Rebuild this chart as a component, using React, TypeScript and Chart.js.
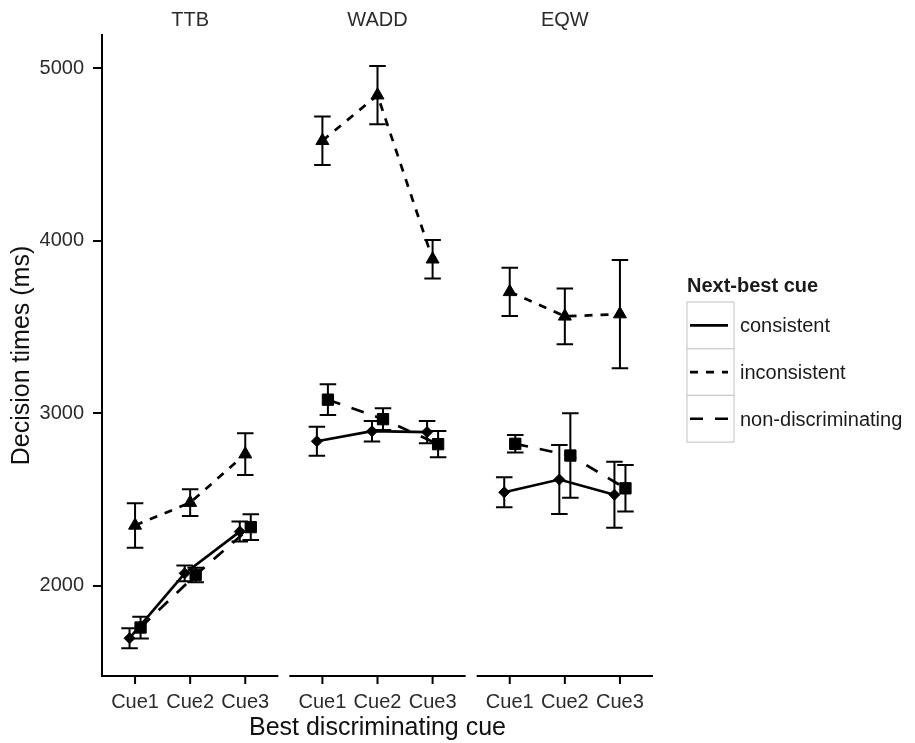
import { useEffect, useRef } from 'react';
import { Chart, registerables } from 'chart.js';

Chart.register(...registerables);

// ---------- data ----------
const panels = ['TTB', 'WADD', 'EQW'];
const cues = ['Cue1', 'Cue2', 'Cue3'];
const seriesNames = ['consistent', 'inconsistent', 'non-discriminating'];
const yTickValues = [2000, 3000, 4000, 5000];

// order: TTB Cue1..3, WADD Cue1..3, EQW Cue1..3
const consistentMean = [1696, 2072, 2314, 2838, 2896, 2891, 2542, 2616, 2528];
const consistentSE = [58, 46, 58, 84, 60, 65, 87, 200, 191];
const inconsistentMean = [2350, 2482, 2763, 4580, 4844, 3893, 3704, 3562, 3575];
const inconsistentSE = [129, 77, 121, 140, 169, 111, 140, 162, 314];
const nondiscMean = [1758, 2063, 2340, 3079, 2966, 2821, 2823, 2755, 2565];
const nondiscSE = [63, 42, 74, 89, 63, 76, 51, 245, 135];

const seriesMeans = [consistentMean, inconsistentMean, nondiscMean];
const seriesSEs = [consistentSE, inconsistentSE, nondiscSE];

// ---------- layout / style ----------
const FONT = '"Liberation Sans", Arial, Helvetica, sans-serif';
const INK = '#000000';
const TICK_COLOR = '#2b2b2b';
const PANEL_STEP = 3.4;
const PANEL_HALF = 1.6;
const X_MIN = 0.4;
const X_MAX = 10.4;
const DODGE = [-0.1, 0, 0.1];
const CAP_HALF = 0.15;

const lineStyles = [
  { dash: [] as number[], point: 'rectRot', radius: 5.5 },
  { dash: [8, 8], point: 'triangle', radius: 7.5 },
  { dash: [13, 12], point: 'rect', radius: 8 },
];

const xValue = (p: number, c: number, s: number) => p * PANEL_STEP + (c + 1) + DODGE[s];

const tickPositions: number[] = [];
panels.forEach((_, p) => cues.forEach((_, c) => tickPositions.push(p * PANEL_STEP + c + 1)));

function buildData(means: number[], s: number) {
  const pts: { x: number; y: number | null }[] = [];
  panels.forEach((_, p) => {
    if (p > 0) pts.push({ x: p * PANEL_STEP + 0.3, y: null });
    cues.forEach((_, c) => pts.push({ x: xValue(p, c, s), y: means[p * cues.length + c] }));
  });
  return pts;
}

const facetPlugin = {
  id: 'facetDecor',
  beforeDatasetsDraw(chart: any) {
    const { ctx } = chart;
    const xs = chart.scales.x;
    const ys = chart.scales.y;
    ctx.save();
    ctx.strokeStyle = INK;
    ctx.lineWidth = 2;
    seriesMeans.forEach((means, s) => {
      means.forEach((m, i) => {
        const p = Math.floor(i / cues.length);
        const c = i % cues.length;
        const xv = xValue(p, c, s);
        const se = seriesSEs[s][i];
        const px = xs.getPixelForValue(xv);
        const pl = xs.getPixelForValue(xv - CAP_HALF);
        const pr = xs.getPixelForValue(xv + CAP_HALF);
        const top = ys.getPixelForValue(m + se);
        const bot = ys.getPixelForValue(m - se);
        ctx.beginPath();
        ctx.moveTo(px, top);
        ctx.lineTo(px, bot);
        ctx.moveTo(pl, top);
        ctx.lineTo(pr, top);
        ctx.moveTo(pl, bot);
        ctx.lineTo(pr, bot);
        ctx.stroke();
      });
    });
    ctx.restore();
  },
  afterDraw(chart: any) {
    const { ctx, chartArea } = chart;
    const xs = chart.scales.x;
    const yb = chartArea.bottom;
    ctx.save();
    // broken x axis per panel + ticks
    ctx.strokeStyle = INK;
    ctx.lineWidth = 2;
    panels.forEach((name, p) => {
      const centre = p * PANEL_STEP + 2;
      const x0 = xs.getPixelForValue(centre - PANEL_HALF);
      const x1 = xs.getPixelForValue(centre + PANEL_HALF);
      ctx.beginPath();
      ctx.moveTo(x0, yb);
      ctx.lineTo(x1, yb);
      cues.forEach((_, c) => {
        const tx = xs.getPixelForValue(p * PANEL_STEP + c + 1);
        ctx.moveTo(tx, yb);
        ctx.lineTo(tx, yb + 8);
      });
      ctx.stroke();
      // strip label
      ctx.fillStyle = TICK_COLOR;
      ctx.font = `20px ${FONT}`;
      ctx.textAlign = 'center';
      ctx.textBaseline = 'middle';
      ctx.fillText(name, xs.getPixelForValue(centre), 20);
    });

    // legend
    const lx = chartArea.right + 34;
    const ty = 286;
    ctx.fillStyle = '#1a1a1a';
    ctx.font = `bold 20px ${FONT}`;
    ctx.textAlign = 'left';
    ctx.textBaseline = 'middle';
    ctx.fillText('Next-best cue', lx, ty);
    const boxW = 47;
    const boxH = 46.7;
    const boxTop = 302;
    chart.data.datasets.forEach((ds: any, i: number) => {
      const by = boxTop + i * boxH;
      ctx.fillStyle = '#ffffff';
      ctx.fillRect(lx, by, boxW, boxH);
      ctx.strokeStyle = '#cccccc';
      ctx.lineWidth = 1.2;
      ctx.setLineDash([]);
      ctx.strokeRect(lx, by, boxW, boxH);
      ctx.strokeStyle = INK;
      ctx.lineWidth = ds.borderWidth;
      ctx.setLineDash(ds.borderDash || []);
      ctx.beginPath();
      ctx.moveTo(lx + 3, by + boxH / 2);
      ctx.lineTo(lx + boxW - 6, by + boxH / 2);
      ctx.stroke();
      ctx.setLineDash([]);
      ctx.fillStyle = '#1a1a1a';
      ctx.font = `20px ${FONT}`;
      ctx.fillText(ds.label, lx + 53, by + boxH / 2 + 1.5);
    });
    ctx.restore();
  },
};

export default function App() {
  const ref = useRef<HTMLCanvasElement>(null);
  useEffect(() => {
    const canvas = ref.current;
    if (!canvas) return;
    Chart.defaults.font.family = FONT;
    const chart = new Chart(canvas, {
      type: 'line',
      data: {
        datasets: seriesNames.map((name, i) => ({
          label: name,
          data: buildData(seriesMeans[i], i),
          borderColor: INK,
          backgroundColor: INK,
          borderWidth: 2.7,
          borderDash: lineStyles[i].dash,
          pointStyle: lineStyles[i].point,
          pointRadius: lineStyles[i].radius,
          pointBorderWidth: 1,
          pointBorderColor: INK,
          pointBackgroundColor: INK,
          spanGaps: false,
          tension: 0,
          fill: false,
        })) as any,
      },
      options: {
        responsive: false,
        animation: false,
        devicePixelRatio: 1,
        events: [],
        layout: { padding: { top: 35, right: 262, bottom: 0, left: 0 } },
        plugins: {
          legend: { display: false },
          tooltip: { enabled: false },
          title: { display: false },
        },
        scales: {
          x: {
            type: 'linear',
            bounds: 'data',
            min: X_MIN,
            max: X_MAX,
            grid: { display: false, drawTicks: false },
            border: { display: false },
            afterBuildTicks: (s: any) => {
              s.ticks = tickPositions.map((v) => ({ value: v }));
            },
            ticks: {
              autoSkip: false,
              maxRotation: 0,
              minRotation: 0,
              padding: 14,
              color: TICK_COLOR,
              font: { size: 20, family: FONT },
              callback: (_v: any, i: number) => cues[i % cues.length],
            },
            title: {
              display: true,
              text: 'Best discriminating cue',
              color: '#111111',
              font: { size: 25, family: FONT },
              padding: { top: 0, bottom: 0 },
            },
            afterFit: (s: any) => {
              s.height = 67;
            },
          },
          y: {
            type: 'linear',
            bounds: 'data',
            min: 1477,
            max: 5193,
            afterBuildTicks: (s: any) => {
              s.ticks = yTickValues.map((v) => ({ value: v }));
            },
            grid: { drawOnChartArea: false, drawTicks: true, tickLength: 9, color: INK, lineWidth: 2 },
            border: { display: true, color: INK, width: 2 },
            ticks: {
              padding: 9,
              color: TICK_COLOR,
              font: { size: 20, family: FONT },
              callback: (v: any) => String(v),
            },
            title: {
              display: true,
              text: 'Decision times (ms)',
              color: '#111111',
              font: { size: 25, family: FONT },
              padding: { top: 7, bottom: 0 },
            },
            afterFit: (s: any) => {
              s.width = 102;
            },
          },
        },
      } as any,
      plugins: [facetPlugin],
    });
    return () => chart.destroy();
  }, []);
  return (
    <div style={{ position: 'absolute', left: 0, top: 0, width: 915, height: 743 }}>
      <canvas ref={ref} width={915} height={743} style={{ display: 'block', width: 915, height: 743 }} />
    </div>
  );
}
